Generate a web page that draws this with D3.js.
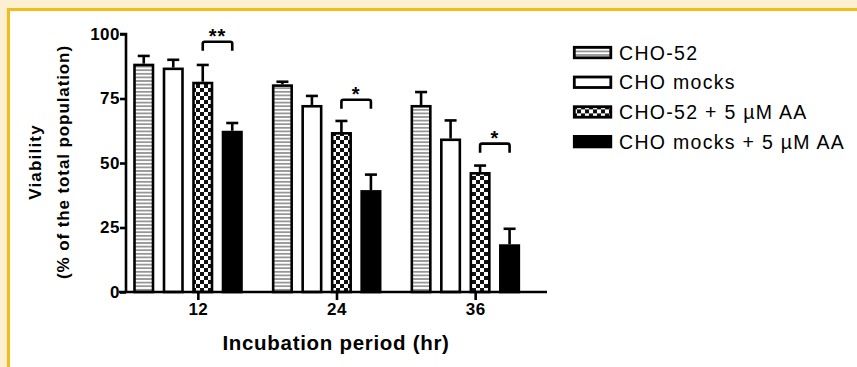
<!DOCTYPE html>
<html>
<head>
<meta charset="utf-8">
<script src="https://cdn.jsdelivr.net/npm/d3@7"></script>
<style>
  body { margin: 0; background: #fdf0d2; }
  svg { display: block; }
</style>
</head>
<body>
<svg id="chart" width="857" height="367"></svg>
<script>
// data
var hours = ["12", "24", "36"];
var series = ["CHO-52", "CHO mocks", "CHO-52 + 5 \u00b5M AA", "CHO mocks + 5 \u00b5M AA"];
var cho52 = [88.5, 80.5, 72.5];
var cho52Err = [3, 1, 5];
var mocks = [87, 72.5, 59.5];
var mocksErr = [3, 3.5, 7];
var cho52AA = [81.5, 62, 46.5];
var cho52AAErr = [6.5, 4.3, 2.5];
var mocksAA = [62.5, 39.5, 18.5];
var mocksAAErr = [3, 6, 6];
var yTicks = [0, 25, 50, 75, 100];
var sigLevel = [97, 74.5, 57.5];
var sigLabel = ["**", "*", "*"];

var values = [cho52, mocks, cho52AA, mocksAA],
    errors = [cho52Err, mocksErr, cho52AAErr, mocksAAErr],
    fills = ["url(#stripes)", "#fff", "url(#checker)", "#000"];

var svg = d3.select("#chart"),
    font = "'Liberation Sans', Arial, sans-serif";

// frame
svg.append("rect").attr("x", 8.5).attr("y", 9.5).attr("width", 860).attr("height", 370)
    .attr("fill", "#fff").attr("stroke", "#f2bd1a").attr("stroke-width", 3);

var defs = svg.append("defs");
var st = defs.append("pattern").attr("id", "stripes").attr("patternUnits", "userSpaceOnUse")
    .attr("width", 8).attr("height", 3.6);
st.append("rect").attr("width", 8).attr("height", 3.6).attr("fill", "#fff");
st.append("rect").attr("y", 1).attr("width", 8).attr("height", 1.6).attr("fill", "#8a8a8a");

var ch = defs.append("pattern").attr("id", "checker").attr("patternUnits", "userSpaceOnUse")
    .attr("width", 8).attr("height", 8);
ch.append("rect").attr("width", 8).attr("height", 8).attr("fill", "#fff");
ch.append("rect").attr("width", 4).attr("height", 4).attr("fill", "#111");
ch.append("rect").attr("x", 4).attr("y", 4).attr("width", 4).attr("height", 4).attr("fill", "#111");

var y = d3.scaleLinear().domain([0, 100]).range([292, 34]),
    x0 = d3.scaleBand().domain(hours).range([129, 545]),
    x1 = d3.scaleBand().domain(d3.range(series.length)).range([0, 118]);

var barW = 18.5, sw = 2.6;

var g = svg.append("g");

hours.forEach(function(h, i) {
    series.forEach(function(s, j) {
        var cx = x0(h) + x1(j) + x1.bandwidth() / 2,
            v = values[j][i],
            e = errors[j][i];
        // error bar
        g.append("line").attr("x1", cx).attr("x2", cx)
            .attr("y1", y(v)).attr("y2", y(v + e))
            .attr("stroke", "#000").attr("stroke-width", sw);
        g.append("line").attr("x1", cx - 6).attr("x2", cx + 6)
            .attr("y1", y(v + e)).attr("y2", y(v + e))
            .attr("stroke", "#000").attr("stroke-width", sw);
        g.append("rect")
            .attr("x", cx - barW / 2)
            .attr("y", y(v) + sw / 2)
            .attr("width", barW)
            .attr("height", y(0) - y(v) - sw / 2)
            .attr("fill", fills[j])
            .attr("stroke", "#000").attr("stroke-width", sw);
    });

    // significance bracket between the two AA bars
    var a = x0(h) + x1(2) + x1.bandwidth() / 2,
        b = x0(h) + x1(3) + x1.bandwidth() / 2,
        t = y(sigLevel[i]);
    g.append("path")
        .attr("d", "M" + a + "," + (t + 9) + "V" + (t + 2) + "Q" + a + "," + t + " " + (a + 2) + "," + t +
            "H" + (b - 2) + "Q" + b + "," + t + " " + b + "," + (t + 2) + "V" + (t + 9))
        .attr("fill", "none").attr("stroke", "#000").attr("stroke-width", 2.6);
    g.append("text").attr("x", (a + b) / 2).attr("y", t + 1)
        .attr("text-anchor", "middle")
        .style("font", "bold 20px " + font)
        .style("letter-spacing", "1px")
        .text(sigLabel[i]);
});

// axes
var yAxis = svg.append("g").attr("transform", "translate(126,0)")
    .call(d3.axisLeft(y).tickValues(yTicks).tickSize(6).tickPadding(0));
yAxis.select(".domain").attr("d", "M-6," + y(100) + "H0V" + y(0));

var xAxis = svg.append("g").attr("transform", "translate(0," + y(0) + ")")
    .call(d3.axisBottom(x0).tickSize(8).tickPadding(3));
xAxis.select(".domain").attr("d", "M119,0H547");

svg.selectAll(".tick line").attr("stroke", "#000").attr("stroke-width", 2.6);
svg.selectAll(".domain").attr("stroke", "#000").attr("stroke-width", 2.6);
svg.selectAll(".tick text").style("font", "bold 17px " + font)
    .style("letter-spacing", "0.5px").attr("fill", "#000");

// titles
svg.append("text").attr("x", 336).attr("y", 350)
    .attr("text-anchor", "middle")
    .style("font", "bold 20.5px " + font)
    .style("letter-spacing", "0.7px")
    .text("Incubation period (hr)");

svg.append("text").attr("transform", "translate(41,162) rotate(-90)")
    .attr("text-anchor", "middle")
    .style("font", "bold 17px " + font)
    .style("letter-spacing", "1.2px")
    .text("Viability");
svg.append("text").attr("transform", "translate(69,162) rotate(-90)")
    .attr("text-anchor", "middle")
    .style("font", "bold 17px " + font)
    .style("letter-spacing", "0.9px")
    .text("(% of the total population)");

// legend
var leg = svg.append("g").attr("transform", "translate(573,46)");
series.forEach(function(s, j) {
    var row = leg.append("g").attr("transform", "translate(0," + (j * 29.7) + ")");
    row.append("rect").attr("x", 1.3).attr("y", 1.3).attr("width", 36.5).attr("height", 10.5)
        .attr("fill", fills[j]).attr("stroke", "#000").attr("stroke-width", 2.8);
    row.append("text").attr("x", 46).attr("y", 13.5)
        .style("font", "19.5px " + font)
        .style("letter-spacing", "1.3px")
        .text(s);
});
</script>
</body>
</html>
